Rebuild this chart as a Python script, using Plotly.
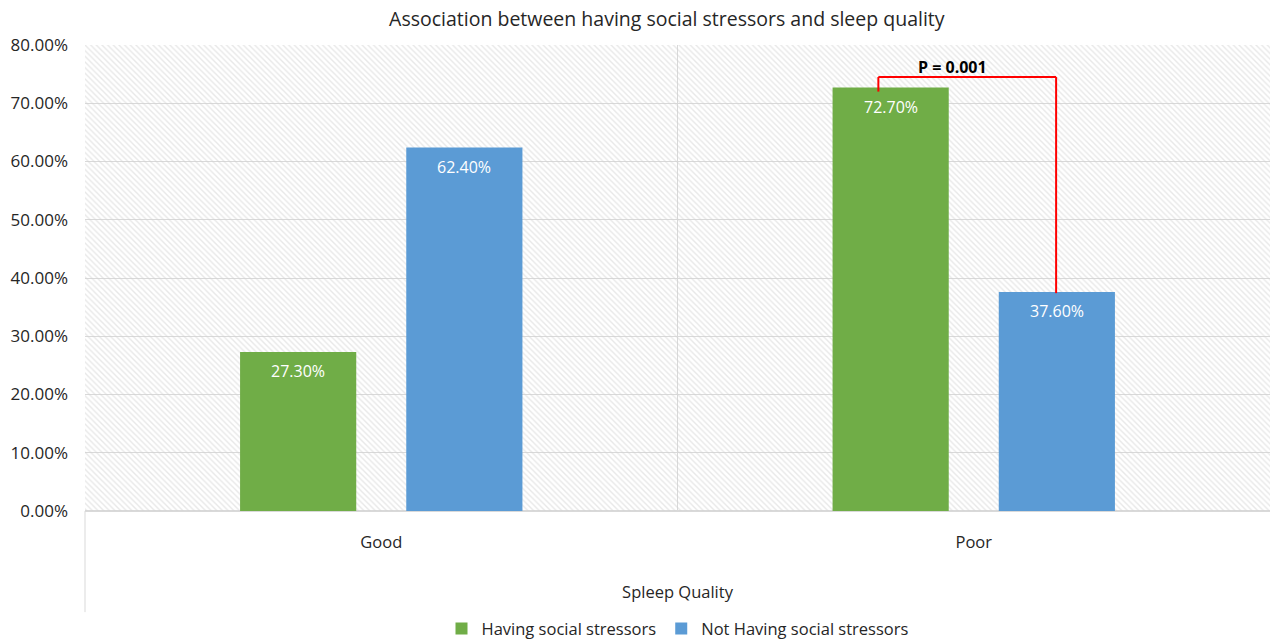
import plotly.graph_objects as go

# Sleep quality categories and share of respondents in each stressor group (%)
categories = ["Good", "Poor"]
having_stressors = [27.3, 72.7]
not_having_stressors = [62.4, 37.6]
series_names = ["Having social stressors", "Not Having social stressors"]
y_ticks = [0, 10, 20, 30, 40, 50, 60, 70, 80]
p_label = "P = 0.001"

GREEN = "#70ad47"
BLUE = "#5b9bd5"
GRID = "#d9d9d9"
TEXT = "#262626"
FONT = "Open Sans"
BARGAP = 0.439
BARGROUPGAP = 0.301

fig = go.Figure()

# Hatched plot-area background on the base (linear) x axis; the bars sit on an
# overlaying category axis so they are drawn above the hatching.
fig.add_trace(go.Bar(
    x=[0.5], y=[max(y_ticks)], width=[2], xaxis="x", yaxis="y",
    marker=dict(color="rgba(0,0,0,0)", line=dict(width=0),
                pattern=dict(shape="\\", fgcolor="#d2d2d2", bgcolor="rgba(0,0,0,0)",
                             size=4, solidity=0.35)),
    showlegend=False, hoverinfo="skip",
))

series = [(series_names[0], having_stressors, GREEN),
          (series_names[1], not_having_stressors, BLUE)]
for name, vals, col in series:
    fig.add_trace(go.Bar(
        name=name, x=categories, y=vals, xaxis="x2", yaxis="y",
        marker=dict(color=col, line=dict(width=0)),
    ))

# Value labels just inside the top of each bar
half_slot = (1 - BARGAP) / 4
for si, (name, vals, col) in enumerate(series):
    for ci, v in enumerate(vals):
        fig.add_annotation(x=ci + (2 * si - 1) * half_slot, y=v, xref="x2", yref="y",
                           text=f"{v:.2f}%", showarrow=False, yshift=-19,
                           font=dict(color="white", size=16, family=FONT))

# Significance bracket between the two "Poor" bars
left_x, right_x = 1 - 0.161, 1 + 0.139
top_y = having_stressors[1] + 1.8
bracket = dict(type="line", xref="x2", yref="y", line=dict(color="#ff0000", width=2), layer="above")
fig.add_shape(x0=left_x, x1=left_x, y0=having_stressors[1] - 0.7, y1=top_y, **bracket)
fig.add_shape(x0=left_x, x1=right_x, y0=top_y, y1=top_y, **bracket)
fig.add_shape(x0=right_x, x1=right_x, y0=top_y, y1=not_having_stressors[1] - 0.2, **bracket)
fig.add_annotation(x=1 - 0.036, y=top_y + 1.7, xref="x2", yref="y", text=f"<b>{p_label}</b>",
                   showarrow=False, font=dict(size=16, color="#000000", family=FONT))

# Left border of the category axis, continuing below the plot area
fig.add_shape(type="line", xref="paper", yref="paper", x0=0, x1=0, y0=0, y1=-0.217,
              line=dict(color=GRID, width=1))

fig.update_layout(
    width=1270, height=641,
    margin=dict(l=85, r=0, t=45, b=130, autoexpand=False),
    paper_bgcolor="white", plot_bgcolor="white",
    font=dict(family=FONT, color=TEXT, size=16),
    title=dict(text="Association between having social stressors and sleep quality",
               x=0.491, xref="paper", xanchor="center", y=0.97, yanchor="middle",
               font=dict(size=19.5, color=TEXT, family=FONT)),
    barmode="group", bargap=BARGAP, bargroupgap=BARGROUPGAP,
    showlegend=True,
    legend=dict(orientation="h", x=0.5, xanchor="center", y=-0.253, yanchor="middle",
                font=dict(size=16.5, color=TEXT), traceorder="normal"),
    xaxis=dict(range=[-0.5, 1.5], tickvals=[-0.5, 0.5, 1.5], showticklabels=False,
               showgrid=True, gridcolor=GRID, gridwidth=1, ticks="",
               showline=False, zeroline=False, fixedrange=True),
    xaxis2=dict(type="category", overlaying="x", anchor="y", side="bottom",
                range=[-0.5, 1.5], showgrid=False, ticks="", showline=False,
                zeroline=False, ticklabelstandoff=19,
                tickfont=dict(size=16.5, color=TEXT),
                title=dict(text="Spleep Quality", standoff=34, font=dict(size=16.5, color=TEXT))),
    yaxis=dict(range=[0, max(y_ticks)], tickvals=y_ticks,
               ticktext=[f"{v:.2f}%" for v in y_ticks],
               showgrid=True, gridcolor=GRID, gridwidth=1, zeroline=True,
               zerolinecolor=GRID, zerolinewidth=2, showline=False, ticks="",
               ticklabelstandoff=16, tickfont=dict(size=17, color=TEXT)),
)

fig.write_html("out.html")
